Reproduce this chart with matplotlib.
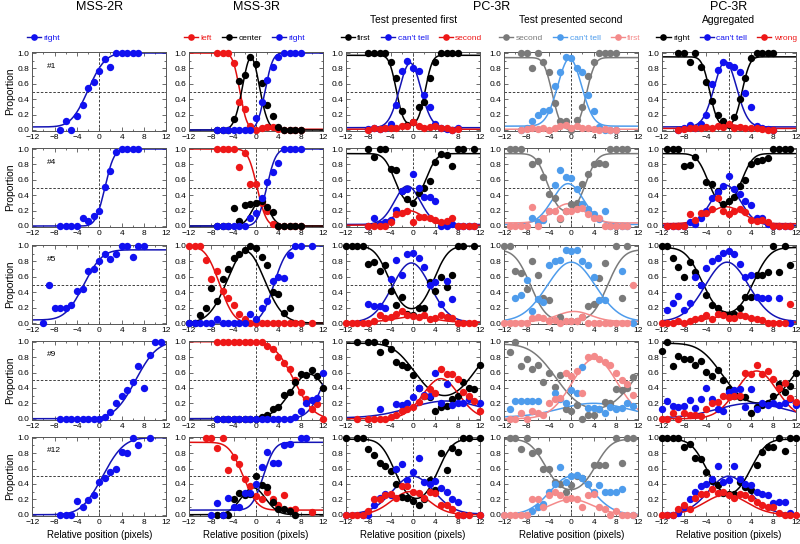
import math
import numpy as np
import matplotlib
matplotlib.use("Agg")
import matplotlib.pyplot as plt
from matplotlib.lines import Line2D
from matplotlib.ticker import MultipleLocator

plt.rcParams["font.family"] = ["Liberation Sans", "DejaVu Sans"]
nan = float("nan")

# ---------------- subject #1 ----------------
x_s1_mss2 = list(range(-7, 8))
s1_mss2_right = [0, 0.12, 0, 0.18, 0.33, 0.55, 0.62, 0.77, 0.92, 0.82, 1, 1, 1, 1, 1]
fit_s1_mss2 = [("sig", 0.04, 1.0, -2.0, 2.4)]

x_s1_mss3 = list(range(-7, 9))
s1_mss3_left = [1, 1, 1, 0.87, 0.36, 0.27, 0.05, 0, 0.03, 0.04, 0.04, 0.01, 0, 0, 0, 0]
s1_mss3_center = [0, 0, 0, 0.14, 0.64, 0.72, 0.95, 0.86, 0.61, 0.32, 0.18, 0.04, 0, 0, 0, 0]
s1_mss3_right = [0, 0, 0, 0, 0, 0, 0, 0.15, 0.37, 0.65, 0.82, 0.95, 1, 1, 1, 1]
fit_s1_mss3 = [("sig", 0.01, 1.0, -2.9, -1.0), ("bump", 0, 0.94, -0.9, 1.5), ("sig", 0, 1.0, 1.6, 1.1)]

x_s1_first = list(range(-8, 9))
s1_first_first = [1, 1, 1, 1, 0.88, 0.68, 0.25, 0.07, 0.1, 0.3, 0.37, 0.68, 0.88, 1, 1, 1, 1]
s1_first_cant = [0.01, 0.02, 0.01, 0.02, 0.08, 0.32, 0.77, 0.9, 0.8, 0.76, 0.45, 0.3, 0.08, 0.02, 0.01, 0.0, 0.02]
s1_first_second = [0.0, 0.02, 0.01, 0.03, 0.02, 0.03, 0.05, 0.05, 0.1, 0.05, 0.02, 0.04, 0.05, 0.03, 0.02, 0.0, 0.01]
fit_s1_first = [("u", 0.07, 0.97, -3.0, 2.2, 1.0), ("bump", 0.03, 0.84, -0.5, 1.9), ("bump", 0.01, 0.06, 0, 2.0)]

x_s1_second = list(range(-9, 9))
s1_second_second = [1, 1, 0.81, 1, 0.88, 0.75, 0.35, 0.12, 0.12, 0.0, 0.13, 0.3, 0.7, 0.88, 1, 1, 1, 1]
s1_second_cant = [0.0, 0.02, 0.12, 0.2, 0.25, 0.26, 0.57, 0.75, 0.95, 0.93, 0.8, 0.75, 0.45, 0.25, 0.04, 0.0, 0.0, 0.0]
s1_second_first = [0.0, 0.01, 0.02, 0.01, 0.02, 0.0, 0.03, 0.05, 0.07, 0.03, 0.05, 0.02, 0.03, 0.01, 0.0, 0.01, 0.0, 0.0]
fit_s1_second = [("u", 0.0, 0.94, -3.4, 2.7, 1.2), ("bump", 0.05, 0.88, -0.3, 2.1), ("bump", 0.01, 0.04, 0, 2.0)]

x_s1_agg = list(range(-9, 9))
s1_agg_right = [1, 1, 0.88, 1, 0.82, 0.62, 0.38, 0.2, 0.12, 0.07, 0.17, 0.4, 0.68, 0.93, 1, 1, 1, 1]
s1_agg_cant = [0.0, 0.02, 0.07, 0.03, 0.08, 0.2, 0.6, 0.78, 0.88, 0.85, 0.82, 0.75, 0.48, 0.3, 0.05, 0.02, 0.01, 0.0]
s1_agg_wrong = [0.0, 0.01, 0.02, 0.03, 0.02, 0.04, 0.03, 0.05, 0.04, 0.08, 0.03, 0.04, 0.02, 0.03, 0.02, 0.01, 0.0, 0.0]
fit_s1_agg = [("u", 0.05, 0.95, -3.4, 2.4, 1.1), ("bump", 0.04, 0.85, -0.6, 2.0), ("bump", 0.02, 0.05, 0, 2.0)]

# ---------------- subject #4 ----------------
x_s4_mss2 = list(range(-7, 8))
s4_mss2_right = [0, 0, 0, 0, 0.11, 0.07, 0.13, 0.2, 0.51, 0.71, 0.96, 1, 1, 1, 1]
fit_s4_mss2 = [("sig", 0, 1, 1.0, 1.3)]

x_s4_mss3 = list(range(-7, 9))
s4_mss3_left = [1, 1, 1, 1, 0.77, 0.95, 0.55, 0.55, 0.3, 0.2, 0.02, 0, 0, 0, 0, 0]
s4_mss3_center = [0, 0, 0, 0.23, 0.07, 0.27, 0.28, 0.3, 0.32, 0.25, 0.18, 0, 0, 0, 0, 0]
s4_mss3_right = [0, 0, 0, 0, 0, 0, 0.1, 0.17, 0.37, 0.57, 0.7, 0.82, 1, 1, 1, 1]
fit_s4_mss3 = [("sig", 0, 1, 0.2, -1.3), ("bump", 0, 0.33, 0.8, 1.5), ("sig", 0, 1, 1.9, 1.3)]

x_s4_first = list(range(-8, 12))
s4_first_first = [1, 0.89, 1, 1, 0.74, 0.73, 0.46, 0.35, 0.3, 0.43, 0.5, 0.58, 0.83, 0.93, 0.92, 0.78, 1, 1, nan, 1]
s4_first_cant = [0.0, 0.11, 0.02, 0.05, 0.08, 0.21, 0.45, 0.48, 0.67, 0.5, 0.38, 0.38, 0.32, 0.0, 0.0, 0.02, 0.0, 0.0, 0.0, 0.0]
s4_first_second = [0.0, 0.0, 0.0, 0.0, 0.05, 0.15, 0.17, 0.19, 0.05, 0.12, 0.12, 0.1, 0.08, 0.05, 0.07, 0.1, 0.0, 0.0, 0.0, 0.0]
fit_s4_first = [("u", 0.27, 0.94, -3.3, 2.3, 1.5), ("bump", 0.02, 0.5, -1.0, 2.3), ("bump", 0.01, 0.19, -0.8, 2.6)]

x_s4_second = list(range(-11, 11))
s4_second_second = [1, 1, 1, nan, 0.8, 0.84, 0.64, 0.42, 0.36, 0.09, 0.2, 0.28, 0.3, 0.54, 0.67, 0.8, 0.82, 0.8, 1, 1, 1, 1]
s4_second_cant = [nan, nan, nan, nan, 0.1, 0.05, 0.08, 0.2, 0.53, 0.73, 0.64, 0.62, 0.48, 0.28, 0.22, 0.16, 0.09, 0.2, 0.0, 0.0, 0.0, 0.0]
s4_second_first = [0, 0, 0, 0, 0.25, 0.0, 0.1, 0.2, 0.2, 0.1, 0.2, 0.2, 0.22, 0.23, 0.15, 0.1, 0.1, 0.0, 0, 0, 0, 0]
fit_s4_second = [("u", 0.17, 0.94, -4.3, 2.6, 1.6), ("bump", 0.02, 0.53, -0.6, 2.8), ("bump", 0.04, 0.25, -0.5, 2.8)]

x_s4_agg = list(range(-11, 12))
s4_agg_right = [1, 1, 1, 0.78, 0.79, 0.9, nan, 0.57, 0.55, 0.45, 0.28, 0.33, 0.38, 0.52, 0.6, 0.8, 0.84, 0.86, 0.88, 1, 1, 1, 1]
s4_agg_cant = [0, 0, 0, 0, 0.05, 0.02, 0.1, 0.19, 0.37, 0.44, 0.52, 0.65, 0.48, 0.42, 0.32, 0.27, 0.1, 0.1, 0.02, 0, 0, 0, 0]
s4_agg_wrong = [0, 0, 0, 0, 0.15, 0.08, 0.17, 0.17, 0.22, 0.37, 0.2, 0.15, 0.2, 0.22, 0.18, 0.08, 0.07, 0.08, 0.05, 0, 0, 0, 0]
fit_s4_agg = [("u", 0.23, 0.94, -3.7, 2.3, 1.6), ("bump", 0.01, 0.52, -0.5, 2.6), ("bump", 0.03, 0.22, -0.5, 3.0)]

# ---------------- subject #5 ----------------
x_s5_mss2 = list(range(-10, 9))
s5_mss2_right = [0, 0.5, 0.2, 0.19, 0.19, 0.23, 0.42, 0.44, 0.68, 0.7, 0.8, 0.9, 0.83, 0.89, 1, 1, 0.86, 1, 1]
fit_s5_mss2 = [("sig", 0.04, 0.95, -2.8, 2.6)]

x_s5_mss3 = list(range(-12, 11))
s5_mss3_left = [1, 1, 1, 0.82, 0.57, 0.68, 0.42, 0.32, 0.23, 0.12, 0.05, 0, 0, 0, 0, 0, 0, 0, 0, 0, 0, nan, 0]
s5_mss3_center = [0, 0, 0.1, 0.2, 0.45, 0.28, 0.57, 0.7, 0.84, 0.9, 0.95, 1.0, 0.97, 0.86, 0.75, 0.4, 0.38, 0.13, 0.2, nan, nan, nan, nan]
s5_mss3_right = [0, 0, 0, 0, 0, 0.05, 0, 0, 0, 0, 0, 0.12, 0.05, 0.2, 0.28, 0.55, 0.6, 0.58, 0.88, 1, 1, nan, 1]
fit_s5_mss3 = [("sig", 0, 1, -6.5, -2.0), ("bump", 0, 0.93, -1.8, 3.3), ("sig", 0, 1, 3.2, 1.8)]

x_s5_first = list(range(-12, 12))
s5_first_first = [1, 1, 1, 1, 0.76, 0.79, 0.68, 0.75, 0.42, 0.23, 0.34, 0.12, 0.1, 0.2, 0.2, 0.53, 0.42, 0.6, 0.47, 0.62, 1, 1, nan, 1]
s5_first_cant = [nan, nan, nan, nan, 0.25, 0.22, 0.22, 0.2, 0.57, 0.82, 0.62, 0.9, 0.91, 0.85, 0.73, 0.5, 0.53, 0.25, 0.55, 0.31, nan, nan, nan, nan]
s5_first_second = [0, 0, 0, 0, 0, 0.02, 0.1, 0.07, 0.08, 0.12, 0.16, 0.1, 0.09, 0.08, 0.1, 0.05, 0.07, 0.1, 0.08, 0.07, 0, 0, 0, 0]
fit_s5_first = [("u", 0.15, 1.0, -4.3, 3.8, 2.0), ("bump", 0.01, 0.77, -0.3, 3.4), ("bump", 0.01, 0.07, 0, 3.5)]

x_s5_second = list(range(-12, 12))
s5_second_second = [1, 1, 0.67, 0.65, 0.44, 0.8, 0.62, 0.32, 0.3, nan, 0.08, nan, 0.02, 0.02, 0.08, 0.22, 0.25, 0.58, 0.78, nan, 1, 0.33, 1, nan]
s5_second_cant = [nan, nan, 0.33, 0.37, 0.56, 0.15, 0.31, 0.27, 0.75, 0.8, 0.82, 0.95, 0.93, 0.95, 0.8, 0.75, 0.6, 0.3, 0.3, nan, nan, 0.67, nan, 0.0]
s5_second_first = [0, 0, 0, 0, 0, 0.07, 0.08, 0.07, 0.03, 0.04, 0.0, 0.02, 0.03, 0.03, 0.08, 0.0, 0.0, 0.0, 0.0, 0.0, 0.0, 0.0, 0.0, 0.5]
fit_s5_second = [("u", 0.03, 0.95, -7.3, 6.5, 2.2), ("bump", 0.02, 0.77, 0, 4.3), ("bump", 0.02, 0.13, 0.5, 3.0)]

x_s5_agg = list(range(-12, 12))
s5_agg_right = [1, 1, 0.84, 0.73, 0.6, 0.79, 0.66, 0.5, 0.36, 0.24, 0.2, 0.12, 0.1, 0.12, 0.2, 0.34, 0.34, 0.62, 0.62, 0.66, 1, 0.66, 1, 0.75]
s5_agg_cant = [nan, 0.17, 0.26, 0.35, 0.17, 0.26, 0.6, 0.5, 0.72, 0.8, 0.84, 0.91, 0.93, 0.89, 0.77, 0.6, 0.62, 0.34, 0.33, 0.33, nan, 0.33, nan, 0.0]
s5_agg_wrong = [0, 0, 0, 0.02, 0, 0.02, 0.05, 0.07, 0.1, 0.05, 0.12, 0.1, 0.06, 0.07, 0.1, 0.09, 0.07, 0.05, 0.04, 0.0, 0.0, 0.0, 0.0, 0.25]
fit_s5_agg = [("u", 0.1, 0.98, -4.8, 4.5, 2.3), ("bump", 0.02, 0.77, -0.3, 3.9), ("bump", 0.01, 0.08, 0, 3.5)]

# ---------------- subject #9 ----------------
x_s9_mss2 = list(range(-7, 12))
s9_mss2_right = [0, 0, 0, 0, 0, 0, 0, 0, 0.02, 0.09, 0.2, 0.3, 0.37, 0.48, 0.69, 0.4, 0.83, 1, 1]
fit_s9_mss2 = [("sig", 0, 1, 6.5, 3.0)]

x_s9_mss3 = list(range(-7, 13))
s9_mss3_left = [1, 1, 1, 1, 1, 1, 1, 1, 1, 0.95, 0.9, 0.8, 0.72, 0.65, 0.5, 0.35, 0.25, 0.13, 0.19, 0.0]
s9_mss3_center = [0, 0, 0, 0, 0, 0, 0, 0, 0.02, 0.05, 0.12, 0.15, 0.31, 0.35, 0.48, 0.58, 0.57, 0.63, 0.56, 0.4]
s9_mss3_right = [0, 0, 0, 0, 0, 0, 0, 0, 0, 0, 0, 0, 0, 0.0, 0.02, 0.1, 0.2, 0.24, 0.27, 0.6]
fit_s9_mss3 = [("sig", 0, 1, 6.8, -2.8), ("bump", 0, 0.58, 9.5, 3.3), ("sig", 0, 1, 12.3, 2.3)]

x_s9_first = list(range(-12, 13))
s9_first_first = [nan, nan, 1, nan, 1, 1, 0.87, 1, 0.9, 0.73, 0.7, 0.67, 0.57, 0.4, 0.3, 0.28, 0.1, 0.15, 0.16, 0.25, 0.3, 0.48, 0.4, 0.38, 0.7]
s9_first_cant = [nan, nan, nan, nan, nan, nan, 0.13, nan, nan, 0.19, 0.18, 0.2, 0.28, 0.4, 0.31, 0.3, 0.6, 0.2, 0.45, 0.18, 0.2, 0.2, 0.25, nan, 0.2]
s9_first_second = [nan, nan, 0, nan, 0, 0, 0, 0, 0.02, 0.05, 0.1, 0.13, 0.15, 0.22, 0.3, 0.38, 0.34, 0.65, 0.58, 0.58, 0.52, 0.35, 0.3, 0.23, 0.1]
fit_s9_first = [("u", 0.25, 0.98, 0.2, 11.1, 3.0), ("bump", 0.01, 0.22, 6, 6.5), ("bump", 0.0, 0.52, 5, 3.2)]

x_s9_second = list(range(-12, 12))
s9_second_second = [nan, 0.87, 1.0, 0.69, 0.78, 0.65, 0.7, 0.48, 0.6, 0.41, 0.57, 0.13, 0.1, 0.18, 0.0, 0.05, 0.05, 0.13, 0.22, 0.2, 0.38, 0.37, 0.4, 0.54]
s9_second_cant = [nan, 0.13, 0.23, 0.23, 0.23, 0.23, 0.23, nan, nan, 0.33, 0.25, 0.2, 0.37, 0.33, 0.67, 0.14, 0.14, 0.12, 0.08, 0.15, 0.12, 0.14, 0.2, 0.16]
s9_second_first = [nan, 0.0, 0.0, 0.08, 0.0, 0.1, 0.08, 0.05, 0.2, 0.25, 0.27, 0.6, 0.55, 0.62, 0.33, 0.8, 0.81, 0.77, 0.73, 0.7, 0.6, 0.5, 0.45, 0.31]
fit_s9_second = [("u", 0.1, 0.97, -2.8, 11.5, 3.5), ("bump", 0.02, 0.18, 4, 6), ("bump", 0.0, 0.78, 4.2, 4.0)]

x_s9_agg = list(range(-12, 13))
s9_agg_right = [0.88, 1.0, 0.69, 0.82, 0.78, 0.77, 0.7, 0.75, 0.61, 0.56, 0.63, 0.5, 0.38, 0.3, 0.28, 0.28, 0.07, 0.15, 0.18, 0.2, 0.3, 0.45, 0.35, 0.42, 0.6]
s9_agg_cant = [0.13, 0.23, 0.17, 0.15, 0.16, 0.24, 0.14, 0.25, 0.4, 0.25, 0.12, 0.1, 0.35, 0.37, 0.38, 0.15, 0.38, 0.13, 0.2, 0.18, 0.2, 0.18, 0.2, 0.25, 0.18]
s9_agg_wrong = [0.0, 0.0, 0.08, 0.0, 0.08, 0.05, 0.05, 0.03, 0.13, 0.2, 0.22, 0.3, 0.28, 0.3, 0.3, 0.6, 0.58, 0.7, 0.58, 0.62, 0.52, 0.4, 0.46, 0.27, 0.22]
fit_s9_agg = [("u", 0.17, 0.98, -1.2, 11.8, 3.2), ("bump", 0.01, 0.19, 4, 6), ("bump", 0.0, 0.62, 5, 3.6)]

# ---------------- subject #12 ----------------
x_s12_mss2 = list(range(-7, 10))
s12_mss2_right = [0, 0, 0, 0.18, 0.1, 0.19, 0.26, 0.42, 0.48, 0.56, 0.6, 0.81, 0.8, 1, 0.9, nan, 1]
fit_s12_mss2 = [("sig", 0, 1, 0.6, 3.0)]

x_s12_mss3 = list(range(-9, 11))
s12_mss3_left = [1, 1, 0.87, 1, 0.58, 0.75, 0.66, 0.47, 0.37, 0.24, 0.2, 0.3, 0.2, 0.13, 0.25, 0.06, 0.07, nan, nan, 0.03]
s12_mss3_center = [nan, nan, 0, 0, 0, 0.2, 0.28, 0.25, 0.27, 0.5, 0.38, 0.36, 0.16, 0.07, 0.08, 0.05, 0.0, nan, nan, nan]
s12_mss3_right = [nan, 0, 0.15, 0, 0.22, 0.1, 0.1, 0.28, 0.28, 0.4, 0.62, 0.82, 0.67, 0.67, 0.91, 0.92, nan, 1, 1, nan]
fit_s12_mss3 = [("sig", 0.06, 0.94, -2.3, -2.0), ("bump", 0, 0.35, -0.5, 2.2), ("sig", 0.06, 0.94, 1.3, 1.6)]

x_s12_first = list(range(-12, 13))
s12_first_first = [1, nan, 1, 1, 0.85, 0.78, 0.67, 0.63, 0.57, 0.4, 0.23, 0.22, 0.18, 0.13, 0.2, 0.45, 0.32, 0.8, 0.58, 0.86, 0.82, 1, 1, nan, 1]
s12_first_cant = [0, nan, nan, 0.0, 0.0, 0.13, 0.22, 0.27, 0.25, 0.6, 0.66, 0.45, 0.55, 0.74, 0.43, 0.4, 0.44, 0.35, 0.3, 0.2, 0.17, 0.0, nan, nan, 0.0]
s12_first_second = [0, 0, 0, 0, 0.05, 0.2, 0.2, 0.25, 0.27, 0.22, 0.37, 0.37, 0.3, 0.28, 0.22, 0.3, 0.28, 0.13, 0.13, 0.07, 0, 0, 0, nan, 0]
fit_s12_first = [("u", 0.17, 0.98, -3.3, 4.5, 2.0), ("bump", 0.01, 0.49, 0, 3.7), ("bump", 0.0, 0.3, -0.5, 3.3)]

x_s12_second = list(range(-12, 12))
s12_second_second = [nan, 1, 1, 0.85, 1, 0.8, 0.83, 0.6, 0.6, 0.42, 0.4, 0.3, 0.39, 0.5, 0.48, 0.4, 0.64, 0.65, 0.65, nan, 1, 0.67, 1, 1]
s12_second_cant = [0, nan, nan, nan, 0.0, 0.05, 0.1, 0.14, 0.3, 0.4, 0.62, 0.42, 0.5, 0.52, 0.48, 0.4, 0.3, 0.38, 0.3, 0.3, 0.3, 0.33, nan, 0.0]
s12_second_first = [0, 0, 0, 0, 0, 0.2, 0.2, 0.1, 0.25, 0.3, 0.25, 0.2, 0.22, 0.2, 0.1, 0.25, 0.27, 0.1, 0.08, 0.0, 0.05, 0.0, 0.0, 0.0]
fit_s12_second = [("u", 0.3, 0.98, -4.7, 4.4, 2.2), ("bump", 0.0, 0.5, 0, 3.8), ("bump", 0.0, 0.2, 0, 3.8)]

x_s12_agg = list(range(-12, 13))
s12_agg_right = [1, 1, 1, 1, 0.88, 0.92, 0.73, 0.72, 0.55, 0.44, 0.38, 0.28, 0.27, 0.27, 0.42, 0.36, 0.32, 0.65, 0.82, 0.88, 0.88, 1, 0.83, 1, 1]
s12_agg_cant = [nan, 0, 0, 0.02, 0.1, 0.2, 0.3, 0.37, 0.4, 0.47, 0.63, 0.43, 0.45, 0.63, 0.47, 0.4, 0.38, 0.3, 0.27, 0.25, 0.15, 0.17, 0.17, 0.02, nan]
s12_agg_wrong = [0, 0, 0, 0.07, 0.12, 0.07, 0.22, 0.27, 0.27, 0.33, 0.28, 0.3, 0.25, 0.22, 0.27, 0.25, 0.22, 0.17, 0.12, 0.1, 0.1, 0.02, 0, 0, 0]
fit_s12_agg = [("u", 0.22, 0.98, -4.0, 4.0, 2.2), ("bump", 0.01, 0.49, 0, 3.6), ("bump", 0.0, 0.26, -0.5, 3.8)]

subjects = ["#1", "#4", "#5", "#9", "#12"]
rows = [
    [(x_s1_mss2, [s1_mss2_right], fit_s1_mss2),
     (x_s1_mss3, [s1_mss3_left, s1_mss3_center, s1_mss3_right], fit_s1_mss3),
     (x_s1_first, [s1_first_first, s1_first_cant, s1_first_second], fit_s1_first),
     (x_s1_second, [s1_second_second, s1_second_cant, s1_second_first], fit_s1_second),
     (x_s1_agg, [s1_agg_right, s1_agg_cant, s1_agg_wrong], fit_s1_agg)],
    [(x_s4_mss2, [s4_mss2_right], fit_s4_mss2),
     (x_s4_mss3, [s4_mss3_left, s4_mss3_center, s4_mss3_right], fit_s4_mss3),
     (x_s4_first, [s4_first_first, s4_first_cant, s4_first_second], fit_s4_first),
     (x_s4_second, [s4_second_second, s4_second_cant, s4_second_first], fit_s4_second),
     (x_s4_agg, [s4_agg_right, s4_agg_cant, s4_agg_wrong], fit_s4_agg)],
    [(x_s5_mss2, [s5_mss2_right], fit_s5_mss2),
     (x_s5_mss3, [s5_mss3_left, s5_mss3_center, s5_mss3_right], fit_s5_mss3),
     (x_s5_first, [s5_first_first, s5_first_cant, s5_first_second], fit_s5_first),
     (x_s5_second, [s5_second_second, s5_second_cant, s5_second_first], fit_s5_second),
     (x_s5_agg, [s5_agg_right, s5_agg_cant, s5_agg_wrong], fit_s5_agg)],
    [(x_s9_mss2, [s9_mss2_right], fit_s9_mss2),
     (x_s9_mss3, [s9_mss3_left, s9_mss3_center, s9_mss3_right], fit_s9_mss3),
     (x_s9_first, [s9_first_first, s9_first_cant, s9_first_second], fit_s9_first),
     (x_s9_second, [s9_second_second, s9_second_cant, s9_second_first], fit_s9_second),
     (x_s9_agg, [s9_agg_right, s9_agg_cant, s9_agg_wrong], fit_s9_agg)],
    [(x_s12_mss2, [s12_mss2_right], fit_s12_mss2),
     (x_s12_mss3, [s12_mss3_left, s12_mss3_center, s12_mss3_right], fit_s12_mss3),
     (x_s12_first, [s12_first_first, s12_first_cant, s12_first_second], fit_s12_first),
     (x_s12_second, [s12_second_second, s12_second_cant, s12_second_first], fit_s12_second),
     (x_s12_agg, [s12_agg_right, s12_agg_cant, s12_agg_wrong], fit_s12_agg)],
]

legend_labels = [["right"], ["left", "center", "right"], ["first", "can't tell", "second"],
                 ["second", "can't tell", "first"], ["right", "can't tell", "wrong"]]

# point colour, curve colour
C = {"blue": ("#1010f0", "#1414b4"), "red": ("#ee1818", "#e01010"), "black": ("#000000", "#000000"),
     "gray": ("#7a7a7a", "#7a7a7a"), "lblue": ("#4e9cec", "#4e9cec"), "pink": ("#f48a8a", "#f48a8a")}
col_colors = [["blue"], ["red", "black", "blue"], ["black", "blue", "red"],
              ["gray", "lblue", "pink"], ["black", "blue", "red"]]

erf = np.vectorize(math.erf)


def phi(z):
    return 0.5 * (1 + erf(z / math.sqrt(2)))


def curve(fit, x):
    kind = fit[0]
    if kind == "sig":
        lo, hi, mu, s = fit[1:]
        return lo + (hi - lo) * phi((x - mu) / s)
    if kind == "bump":
        lo, amp, mu, s = fit[1:]
        return lo + amp * np.exp(-(x - mu) ** 2 / (2 * s * s))
    lo, hi, m1, m2, s = fit[1:]
    return lo + (hi - lo) * (phi((m1 - x) / s) + phi((x - m2) / s))


W, H = 800, 544
fig = plt.figure(figsize=(8, 5.44), dpi=100)

col_left = [32.3, 189.0, 346.0, 504.3, 661.7]
row_top = [53, 149, 246, 341.7, 437.7]   # pixel of y = 1.0
aw, unit = 134.0, 77.0
pad = 0.015
xs = np.linspace(-12, 12, 400)

for r, row in enumerate(rows):
    for c, (xv, ys, fits) in enumerate(row):
        top = row_top[r] - pad * unit
        h = (1 + 2 * pad) * unit
        ax = fig.add_axes([col_left[c] / W, 1 - (top + h) / H, aw / W, h / H])
        ax.set_xlim(-12, 12)
        ax.set_ylim(-pad, 1 + pad)
        ax.axhline(0.5, color="#222222", lw=0.6, ls=(0, (3, 2)), zorder=1)
        ax.axvline(0, color="#222222", lw=0.6, ls=(0, (3, 2)), zorder=1)
        handles = []
        for k, (yv, fit) in enumerate(zip(ys, fits)):
            pc, lc = C[col_colors[c][k]]
            ax.plot(xs, curve(fit, xs), color=lc, lw=1.1, zorder=2)
            ax.plot(xv, yv, "o", color=pc, ms=5.3, mew=0, zorder=3, clip_on=False)
            handles.append(Line2D([0], [0], color=lc, lw=1.0, marker="o", ms=4.8,
                                  mfc=pc, mew=0, label=legend_labels[c][k]))
        ax.xaxis.set_major_locator(MultipleLocator(4))
        ax.xaxis.set_minor_locator(MultipleLocator(2))
        ax.yaxis.set_major_locator(MultipleLocator(0.2))
        ax.yaxis.set_minor_locator(MultipleLocator(0.1))
        ax.yaxis.set_major_formatter(plt.FormatStrFormatter("%.1f"))
        ax.tick_params(which="both", direction="in", top=True, right=True, labelsize=6,
                       pad=2, color="#555555", width=0.6)
        ax.tick_params(which="major", length=3)
        ax.tick_params(which="minor", length=1.5)
        for sp in ax.spines.values():
            sp.set_color("#555555")
            sp.set_linewidth(0.7)
        if c == 0:
            ax.set_ylabel("Proportion", fontsize=7.5, labelpad=2)
            ax.text(-9.3, 0.83, subjects[r], fontsize=6, ha="left", va="center")
        if r == len(rows) - 1:
            ax.set_xlabel("Relative position (pixels)", fontsize=7, labelpad=3)
        if r == 0:
            leg = ax.legend(handles=handles, loc="center left", bbox_to_anchor=(-0.04, 1.17),
                            ncol=len(handles), frameon=False, fontsize=6, handlelength=1.7,
                            handletextpad=0.3, columnspacing=1.2, borderaxespad=0, borderpad=0)
            for t, ck in zip(leg.get_texts(), col_colors[c]):
                t.set_color(C[ck][0])

fig.text(99.5 / W, 1 - 7 / H, "MSS-2R", ha="center", va="center", fontsize=9)
fig.text(256 / W, 1 - 7 / H, "MSS-3R", ha="center", va="center", fontsize=9)
fig.text(492 / W, 1 - 7 / H, "PC-3R", ha="center", va="center", fontsize=9)
fig.text(413.5 / W, 1 - 20 / H, "Test presented first", ha="center", va="center", fontsize=7.4)
fig.text(571 / W, 1 - 20 / H, "Test presented second", ha="center", va="center", fontsize=7.4)
fig.text(729 / W, 1 - 7 / H, "PC-3R", ha="center", va="center", fontsize=9)
fig.text(729 / W, 1 - 20 / H, "Aggregated", ha="center", va="center", fontsize=7.4)

fig.savefig("out.png", dpi=100)
